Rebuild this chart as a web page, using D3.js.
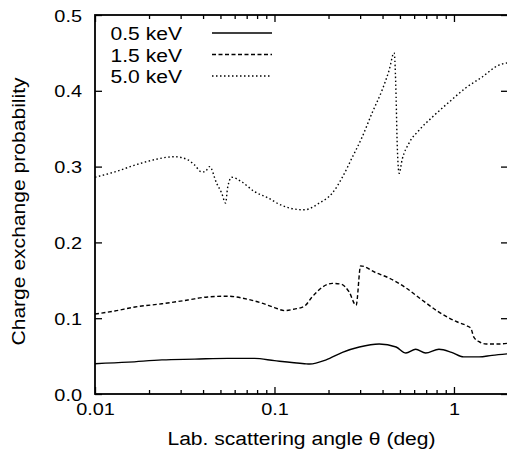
<!DOCTYPE html>
<html>
<head>
<meta charset="utf-8">
<script src="https://cdn.jsdelivr.net/npm/d3@7"></script>
<style>
  body { margin: 0; background: #fff; }
  text { font-family: "Liberation Sans", Arial, Helvetica, sans-serif; fill: #000; }
  .domain { stroke: none; }
  .tick line { stroke: #000; stroke-width: 1.3; }
</style>
</head>
<body>
<script>
// scattering angle (deg) and charge exchange probability
var angle05 = [0.01, 0.0153, 0.0236, 0.036, 0.0548, 0.0774, 0.1, 0.147, 0.157, 0.194, 0.239, 0.297, 0.383, 0.476, 0.54, 0.612, 0.695, 0.825, 0.97, 1.13, 1.38, 1.63, 2.0];
var prob05 = [0.040, 0.042, 0.045, 0.046, 0.047, 0.047, 0.044, 0.040, 0.0395, 0.045, 0.055, 0.062, 0.066, 0.062, 0.054, 0.059, 0.054, 0.059, 0.055, 0.049, 0.049, 0.051, 0.053];

var angle15 = [0.01, 0.0129, 0.0167, 0.0236, 0.0329, 0.0424, 0.0548, 0.0709, 0.0846, 0.1, 0.114, 0.129, 0.147, 0.162, 0.185, 0.21, 0.235, 0.26, 0.285, 0.302, 0.367, 0.435, 0.54, 0.664, 0.825, 1.02, 1.18, 1.24, 1.29, 1.38, 1.51, 1.78, 2.0];
var prob15 = [0.1055, 0.1095, 0.1148, 0.119, 0.124, 0.128, 0.129, 0.125, 0.120, 0.114, 0.110, 0.112, 0.116, 0.128, 0.141, 0.146, 0.145, 0.135, 0.117, 0.169, 0.160, 0.153, 0.140, 0.124, 0.108, 0.096, 0.090, 0.087, 0.075, 0.069, 0.066, 0.066, 0.067];

var angle50 = [0.01, 0.0129, 0.0167, 0.0197, 0.0278, 0.0329, 0.0359, 0.0393, 0.0408, 0.0435, 0.0476, 0.0508, 0.0534, 0.0548, 0.0577, 0.0656, 0.0774, 0.0914, 0.1094, 0.129, 0.1468, 0.178, 0.21, 0.239, 0.271, 0.308, 0.35, 0.398, 0.435, 0.464, 0.476, 0.482, 0.495, 0.514, 0.562, 0.639, 0.755, 0.938, 1.166, 1.431, 1.778, 2.0];
var prob50 = [0.286, 0.293, 0.302, 0.307, 0.313, 0.309, 0.302, 0.293, 0.293, 0.300, 0.278, 0.265, 0.252, 0.272, 0.286, 0.280, 0.267, 0.259, 0.249, 0.244, 0.243, 0.252, 0.265, 0.286, 0.312, 0.339, 0.371, 0.401, 0.427, 0.450, 0.392, 0.335, 0.291, 0.309, 0.331, 0.348, 0.365, 0.385, 0.404, 0.418, 0.434, 0.437];

var seriesNames = ['0.5 keV', '1.5 keV', '5.0 keV'];
var xMajorTicks = [0.01, 0.1, 1];
var yTicks = [0.0, 0.1, 0.2, 0.3, 0.4, 0.5];

var w = 507,
    h = 464;
var padL = 95, padR = 508, padT = 15, padB = 394;
var stretch = 1.17; // glyphs in the figure are wider than Helvetica

var svg = d3.select('body')
    .append('svg')
    .attr('width', w)
    .attr('height', h);

var x = d3.scaleLog()
    .domain([0.01, 2])
    .range([padL, padR]);
var y = d3.scaleLinear()
    .domain([0, 0.5])
    .range([padB, padT]);

// minor ticks 2..9 of each decade
var xMinorTicks = [];
[0.01, 0.1, 1].forEach(function(d) {
    for (var k = 2; k <= 9; k++) {
        if (d * k <= 2) xMinorTicks.push(d * k);
    }
});

// Axes, ticks pointing inside on all four sides
svg.append('g')
    .attr('transform', 'translate(0,' + padB + ')')
    .call(d3.axisBottom(x).tickValues(xMajorTicks).tickSize(-7).tickFormat(d3.format('')))
    .call(function(g) {
        g.selectAll('text').attr('font-size', 17).attr('dy', '0.71em').attr('y', 9);
    });
svg.append('g')
    .attr('transform', 'translate(0,' + padB + ')')
    .call(d3.axisBottom(x).tickValues(xMinorTicks).tickSize(-4).tickFormat(''));
svg.append('g')
    .attr('transform', 'translate(0,' + padT + ')')
    .call(d3.axisTop(x).tickValues(xMajorTicks).tickSize(-7).tickFormat(''));
svg.append('g')
    .attr('transform', 'translate(0,' + padT + ')')
    .call(d3.axisTop(x).tickValues(xMinorTicks).tickSize(-4).tickFormat(''));
svg.append('g')
    .attr('transform', 'translate(' + padL + ',0)')
    .call(d3.axisLeft(y).tickValues(yTicks).tickSize(-7).tickFormat(d3.format('.1f')))
    .call(function(g) {
        g.selectAll('text').attr('font-size', 17).attr('x', -13).attr('dy', '0.36em');
    });
svg.append('g')
    .attr('transform', 'translate(' + padR + ',0)')
    .call(d3.axisRight(y).tickValues(yTicks).tickSize(-7).tickFormat(''));

// frame
svg.append('rect')
    .attr('x', padL)
    .attr('y', padT)
    .attr('width', padR - padL)
    .attr('height', padB - padT)
    .attr('fill', 'none')
    .attr('stroke', '#000')
    .attr('stroke-width', 1.8);

// axis titles
svg.append('text')
    .attr('class', 'stretch')
    .attr('x', (padL + padR) / 2)
    .attr('y', 445)
    .attr('text-anchor', 'middle')
    .attr('font-size', 18)
    .text('Lab. scattering angle θ (deg)');
svg.append('text')
    .attr('class', 'stretch')
    .attr('transform', 'translate(25,' + ((padT + padB) / 2 + 7) + ') rotate(-90)')
    .attr('text-anchor', 'middle')
    .attr('font-size', 18)
    .text('Charge exchange probability');

// curves
svg.append('clipPath')
    .attr('id', 'plotclip')
    .append('rect')
    .attr('x', padL)
    .attr('y', padT)
    .attr('width', padR - padL)
    .attr('height', padB - padT);

var line = d3.line()
    .x(function(d) { return x(d[0]); })
    .y(function(d) { return y(d[1]); })
    .curve(d3.curveMonotoneX);

var series = [
    { pts: d3.zip(angle05, prob05), dash: null },
    { pts: d3.zip(angle15, prob15), dash: '4,2.5' },
    { pts: d3.zip(angle50, prob50), dash: '1.5,2.5' }
];

series.forEach(function(s) {
    svg.append('path')
        .attr('d', line(s.pts))
        .attr('clip-path', 'url(#plotclip)')
        .attr('fill', 'none')
        .attr('stroke', '#000')
        .attr('stroke-width', 1.4)
        .attr('stroke-dasharray', s.dash);
});

// legend
var legend = svg.append('g');
seriesNames.forEach(function(name, i) {
    var ly = 33 + i * 21.5;
    legend.append('text')
        .attr('class', 'stretch')
        .attr('x', 182)
        .attr('y', ly + 7)
        .attr('text-anchor', 'end')
        .attr('font-size', 18)
        .text(name);
    legend.append('line')
        .attr('x1', 212)
        .attr('x2', 272)
        .attr('y1', ly)
        .attr('y2', ly)
        .attr('stroke', '#000')
        .attr('stroke-width', 1.4)
        .attr('stroke-dasharray', series[i].dash);
});

// widen all the text a little so it matches the original figure
svg.selectAll('.tick text').classed('stretch', true);
svg.selectAll('text.stretch').each(function() {
    var len = this.getComputedTextLength();
    d3.select(this)
        .attr('textLength', len * stretch)
        .attr('lengthAdjust', 'spacingAndGlyphs');
});
</script>
</body>
</html>
